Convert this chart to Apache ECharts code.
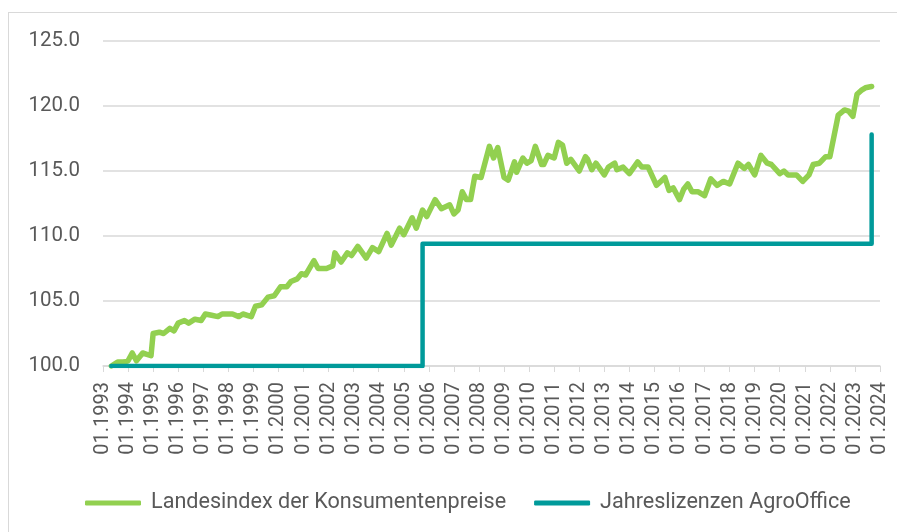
<!DOCTYPE html>
<html>
<head>
<meta charset="utf-8">
<script src="https://cdn.jsdelivr.net/npm/echarts@6/dist/echarts.min.js"></script>
<style>
  html, body { margin: 0; padding: 0; background: #fff; }
  #wrap { position: relative; width: 897px; height: 532px; overflow: hidden; }
  #frame { position: absolute; left: 8px; top: 12px; width: 900px; height: 540px;
           border-left: 1px solid #d9d9d9; border-top: 1px solid #d9d9d9; }
  #chart { position: absolute; left: 0; top: 0; width: 897px; height: 532px; }
</style>
</head>
<body>
<div id="wrap">
  <div id="frame"></div>
  <div id="chart"></div>
</div>
<script>
// monthly categories 01.1993 .. 01.2024
const months = [];
for (let y = 1993; y <= 2024; y++) {
  for (let m = 1; m <= 12; m++) {
    if (y === 2024 && m > 1) break;
    months.push(String(m).padStart(2, "0") + "." + y);
  }
}

// Landesindex der Konsumentenpreise
const cpiMonths = [
  "05.1993","08.1993","11.1993","01.1994","03.1994","05.1994","08.1994","10.1994","12.1994",
  "01.1995","04.1995","06.1995","09.1995","11.1995",
  "01.1996","04.1996","06.1996","09.1996","12.1996",
  "02.1997","05.1997","08.1997","10.1997",
  "03.1998","06.1998","08.1998","12.1998",
  "02.1999","05.1999","08.1999","11.1999",
  "02.2000","05.2000","07.2000","10.2000","12.2000",
  "02.2001","06.2001","08.2001","12.2001",
  "03.2002","04.2002","07.2002","10.2002","12.2002",
  "03.2003","07.2003","10.2003",
  "01.2004","05.2004","07.2004","11.2004",
  "01.2005","05.2005","07.2005","10.2005","12.2005",
  "04.2006","07.2006","11.2006",
  "01.2007","03.2007","05.2007","07.2007","09.2007","11.2007",
  "02.2008","03.2008","06.2008","08.2008","10.2008",
  "01.2009","03.2009","06.2009","07.2009","10.2009","12.2009",
  "02.2010","04.2010","07.2010","08.2010","10.2010",
  "01.2011","03.2011","05.2011","07.2011","09.2011",
  "01.2012","04.2012","05.2012","07.2012","09.2012",
  "01.2013","03.2013","06.2013","07.2013","10.2013",
  "01.2014","05.2014","07.2014","10.2014",
  "02.2015","04.2015","06.2015","08.2015","10.2015",
  "01.2016","03.2016","05.2016","07.2016","10.2016",
  "01.2017","04.2017","07.2017","10.2017",
  "01.2018","05.2018","08.2018","10.2018",
  "01.2019","04.2019","07.2019","09.2019",
  "01.2020","03.2020","05.2020","09.2020","12.2020",
  "03.2021","05.2021","08.2021","11.2021",
  "01.2022","05.2022","08.2022","10.2022","12.2022",
  "02.2023","04.2023","06.2023","09.2023"
];
const cpiValues = [
  100.0,100.3,100.3,100.4,101.0,100.4,101.0,100.9,100.8,
  102.5,102.6,102.5,102.9,102.7,
  103.3,103.5,103.3,103.6,103.5,
  104.0,103.9,103.8,104.0,
  104.0,103.8,104.0,103.8,
  104.6,104.7,105.3,105.4,
  106.1,106.1,106.5,106.7,107.1,
  107.0,108.1,107.5,107.5,
  107.7,108.7,108.0,108.7,108.5,
  109.2,108.3,109.1,
  108.8,110.2,109.3,110.6,
  110.1,111.4,110.6,112.0,111.5,
  112.8,112.1,112.4,
  111.7,112.0,113.4,112.8,112.8,114.6,
  114.5,115.1,116.9,116.0,116.8,
  114.5,114.3,115.7,114.9,116.0,115.6,
  115.8,116.9,115.5,115.5,116.2,
  116.0,117.2,117.0,115.6,115.9,
  115.0,116.1,115.9,115.1,115.6,
  114.7,115.3,115.6,115.1,115.3,
  114.8,115.7,115.3,115.3,
  113.9,114.2,114.5,113.5,113.7,
  112.8,113.6,114.0,113.4,113.4,
  113.1,114.4,113.9,114.2,
  114.0,115.6,115.2,115.5,
  114.7,116.2,115.6,115.5,
  114.8,115.0,114.7,114.7,114.2,
  114.7,115.5,115.6,116.1,
  116.1,119.3,119.7,119.6,119.2,
  120.9,121.2,121.4,121.5
];

// Jahreslizenzen AgroOffice (step changes)
const licMonths = ["05.1993", "10.2005", "09.2023"];
const licValues = [100.0, 109.4, 117.8];

const FONT = "Roboto, 'Noto Sans', sans-serif";
const LABEL = "#595959";

const chart = echarts.init(document.getElementById("chart"));

const option = {
  backgroundColor: "transparent",
  animation: false,
  grid: { left: 103, right: 17, top: 41, bottom: 166 },
  legend: {
    left: 80,
    top: 487,
    icon: "roundRect",
    itemWidth: 56,
    itemHeight: 5,
    itemGap: 28,
    textStyle: { color: LABEL, fontSize: 21.6, fontFamily: FONT, padding: [0, 0, 0, 5] },
    data: ["Landesindex der Konsumentenpreise", "Jahreslizenzen AgroOffice"]
  },
  xAxis: {
    type: "category",
    data: months,
    boundaryGap: false,
    axisLine: { lineStyle: { color: "#d9d9d9", width: 1.5 } },
    axisTick: { interval: 11, length: 6, lineStyle: { color: "#d9d9d9" } },
    axisLabel: {
      interval: 11, rotate: 90, margin: 16,
      color: LABEL, fontSize: 20, fontFamily: FONT
    },
    splitLine: { show: false }
  },
  yAxis: {
    type: "value",
    min: 100, max: 125, interval: 5,
    axisLine: { show: false },
    axisTick: { show: false },
    axisLabel: {
      margin: 23, color: LABEL, fontSize: 20.5, fontFamily: FONT,
      formatter: v => v.toFixed(1)
    },
    splitLine: { lineStyle: { color: "#d9d9d9", width: 1.5 } }
  },
  series: [
    {
      name: "Landesindex der Konsumentenpreise",
      type: "line",
      symbol: "none",
      data: cpiMonths.map((m, i) => [m, cpiValues[i]]),
      lineStyle: { color: "#92d050", width: 5.5, cap: "round", join: "round" },
      itemStyle: { color: "#92d050" },
      z: 2
    },
    {
      name: "Jahreslizenzen AgroOffice",
      type: "line",
      symbol: "none",
      step: "end",
      data: licMonths.map((m, i) => [m, licValues[i]]),
      lineStyle: { color: "#009a9a", width: 4.5, cap: "round", join: "round" },
      itemStyle: { color: "#009a9a" },
      z: 3
    }
  ]
};

chart.setOption(option);
</script>
</body>
</html>
